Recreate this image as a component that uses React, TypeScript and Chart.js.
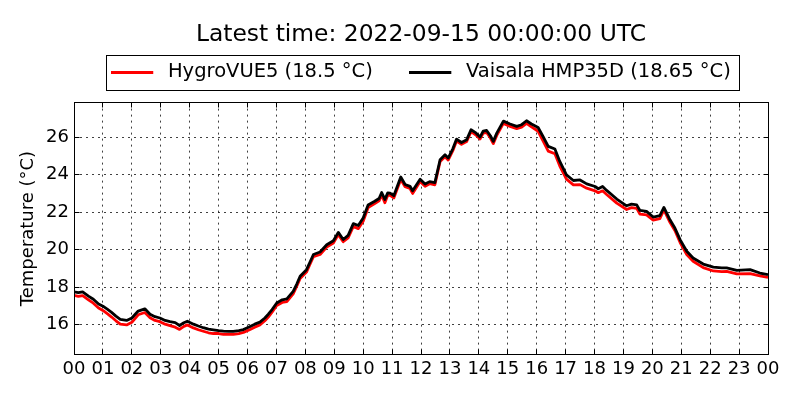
import React, { useEffect, useRef } from 'react';
import { Chart, registerables, Plugin, ChartConfiguration } from 'chart.js';

Chart.register(...registerables);

// time of day in hours, and both sensors' temperatures
const hours = [
  0.0, 0.15, 0.3, 0.5, 0.67, 0.85, 1.0, 1.15, 1.3, 1.45, 1.6, 1.82, 2.0, 2.22, 2.45, 2.63, 2.8, 2.97,
  3.15, 3.32, 3.5, 3.65, 3.8, 3.92, 4.13, 4.3, 4.47, 4.65, 4.82, 5.0, 5.17, 5.35, 5.51, 5.7, 5.86,
  6.09, 6.25, 6.43, 6.6, 6.72, 6.85, 7.01, 7.2, 7.36, 7.58, 7.7, 7.82, 8.04, 8.15, 8.28, 8.51, 8.74,
  8.97, 9.14, 9.31, 9.48, 9.66, 9.83, 10.0, 10.17, 10.4, 10.55, 10.64, 10.75, 10.85, 10.93, 11.06,
  11.3, 11.45, 11.62, 11.71, 11.97, 12.14, 12.3, 12.48, 12.66, 12.83, 12.94, 13.1, 13.23, 13.4,
  13.58, 13.73, 13.9, 14.04, 14.15, 14.27, 14.4, 14.5, 14.62, 14.85, 15.08, 15.31, 15.48, 15.65,
  15.82, 16.05, 16.22, 16.4, 16.63, 16.8, 17.03, 17.27, 17.5, 17.73, 18.02, 18.13, 18.28, 18.42,
  18.77, 19.11, 19.28, 19.46, 19.57, 19.8, 20.03, 20.26, 20.4, 20.61, 20.78, 20.96, 21.19, 21.41,
  21.76, 22.11, 22.4, 22.57, 22.92, 23.38, 23.72, 24.0,
];

const vaisala = [
  17.74, 17.7, 17.74, 17.52, 17.35, 17.1, 16.98, 16.82, 16.65, 16.45, 16.28, 16.22, 16.35, 16.72,
  16.84, 16.55, 16.42, 16.35, 16.22, 16.15, 16.1, 15.95, 16.1, 16.18, 16.02, 15.92, 15.83, 15.75,
  15.72, 15.68, 15.65, 15.63, 15.64, 15.68, 15.73, 15.9, 16.02, 16.13, 16.35, 16.55, 16.8, 17.15,
  17.32, 17.37, 17.77, 18.15, 18.58, 18.93, 19.3, 19.74, 19.87, 20.26, 20.47, 20.92, 20.54, 20.76,
  21.39, 21.29, 21.69, 22.38, 22.58, 22.73, 23.05, 22.68, 23.03, 23.02, 22.88, 23.88, 23.48, 23.38,
  23.14, 23.76, 23.5, 23.63, 23.58, 24.8, 25.06, 24.89, 25.38, 25.9, 25.72, 25.87, 26.4, 26.23,
  26.01, 26.33, 26.36, 26.08, 25.78, 26.22, 26.86, 26.71, 26.58, 26.67, 26.88, 26.71, 26.52, 26.04,
  25.51, 25.37, 24.71, 23.99, 23.69, 23.72, 23.51, 23.37, 23.25, 23.37, 23.16, 22.7, 22.34, 22.43,
  22.39, 22.09, 22.04, 21.74, 21.81, 22.25, 21.59, 21.15, 20.53, 19.91, 19.55, 19.23, 19.07, 19.02,
  19.02, 18.89, 18.93, 18.75, 18.66,
];

const hygroVue5 = [
  17.56, 17.5, 17.54, 17.32, 17.14, 16.88, 16.75, 16.58, 16.4, 16.2, 16.02, 15.98, 16.12, 16.52,
  16.64, 16.36, 16.22, 16.15, 16.02, 15.94, 15.86, 15.74, 15.9, 15.98, 15.82, 15.72, 15.64, 15.56,
  15.52, 15.52, 15.48, 15.47, 15.48, 15.52, 15.58, 15.74, 15.86, 15.98, 16.2, 16.4, 16.66, 17.02,
  17.18, 17.22, 17.64, 18.03, 18.46, 18.8, 19.18, 19.62, 19.74, 20.14, 20.35, 20.8, 20.42, 20.62,
  21.24, 21.12, 21.52, 22.24, 22.46, 22.6, 22.92, 22.5, 22.9, 22.9, 22.76, 23.74, 23.36, 23.26,
  23.0, 23.64, 23.38, 23.52, 23.46, 24.7, 24.96, 24.78, 25.28, 25.8, 25.62, 25.77, 26.3, 26.12,
  25.9, 26.22, 26.25, 25.96, 25.66, 26.1, 26.74, 26.58, 26.46, 26.54, 26.74, 26.55, 26.32, 25.8,
  25.26, 25.12, 24.46, 23.76, 23.46, 23.47, 23.28, 23.14, 23.04, 23.14, 22.94, 22.48, 22.14, 22.24,
  22.2, 21.9, 21.86, 21.58, 21.66, 22.12, 21.46, 21.02, 20.38, 19.74, 19.38, 19.04, 18.86, 18.82,
  18.84, 18.7, 18.72, 18.6, 18.52,
];

const hourLabels = [
  '00', '01', '02', '03', '04', '05', '06', '07', '08', '09', '10', '11', '12',
  '13', '14', '15', '16', '17', '18', '19', '20', '21', '22', '23', '00',
];
const yTicks = [16, 18, 20, 22, 24, 26];
const yMin = 14.4;
const yMax = 27.85;

const titleText = 'Latest time: 2022-09-15 00:00:00 UTC';
const hygroLabel = 'HygroVUE5 (18.5 °C)';
const vaisalaLabel = 'Vaisala HMP35D (18.65 °C)';

const FONT = 'DejaVu Sans';

// legend handle: a 42px line followed by a little empty space before the text
const makeSwatch = (color: string) => {
  const c = document.createElement('canvas');
  c.width = 47;
  c.height = 3;
  const g = c.getContext('2d');
  if (g) {
    g.fillStyle = color;
    g.fillRect(0, 0, 42, 3);
  }
  return c;
};

// matplotlib look: full frame, inward ticks on all sides, box round the legend
const mplFrame: Plugin<'line'> = {
  id: 'mplFrame',
  afterDraw(chart) {
    const { ctx, chartArea: a, scales } = chart;
    const L = Math.floor(a.left) + 0.5;
    const R = Math.floor(a.right) + 0.5;
    const T = Math.floor(a.top) + 0.5;
    const B = Math.floor(a.bottom) + 0.5;
    ctx.save();
    ctx.strokeStyle = '#000';
    ctx.lineWidth = 1;
    ctx.beginPath();
    for (const t of scales.x.ticks) {
      const px = Math.floor(scales.x.getPixelForValue(t.value)) + 0.5;
      ctx.moveTo(px, B);
      ctx.lineTo(px, B - 5);
      ctx.moveTo(px, T);
      ctx.lineTo(px, T + 5);
    }
    for (const t of scales.y.ticks) {
      const py = Math.floor(scales.y.getPixelForValue(t.value)) + 0.5;
      ctx.moveTo(L, py);
      ctx.lineTo(L + 5, py);
      ctx.moveTo(R, py);
      ctx.lineTo(R - 5, py);
    }
    ctx.stroke();
    ctx.strokeRect(L, T, R - L, B - T);

    const lg: any = chart.legend;
    const boxes = lg?.legendHitBoxes;
    if (boxes && boxes.length) {
      const left = Math.min(...boxes.map((b: any) => b.left)) - 5;
      const right = Math.max(...boxes.map((b: any) => b.left + b.width)) + 8;
      const cy = boxes[0].top + boxes[0].height / 2;
      const top = Math.floor(cy - 17) + 0.5;
      ctx.strokeRect(Math.floor(left) + 0.5, top, Math.round(right - left), 35);
    }
    ctx.restore();
  },
};

const gridStyle = { color: 'rgba(0,0,0,0.75)', lineWidth: 1, drawTicks: false };
const gridDash = { display: false, dash: [2, 4] };

const makeConfig = (): ChartConfiguration<'line'> => ({
  type: 'line',
  data: {
    datasets: [
      {
        label: hygroLabel,
        data: hours.map((h, i) => ({ x: h, y: hygroVue5[i] })),
        borderColor: '#ff0000',
        backgroundColor: '#ff0000',
        borderWidth: 2.8,
        pointRadius: 0,
        borderJoinStyle: 'round',
        order: 1,
        xAxisID: 'x',
        yAxisID: 'y',
      },
      {
        label: vaisalaLabel,
        data: hours.map((h, i) => ({ x: h, y: vaisala[i] })),
        borderColor: '#000000',
        backgroundColor: '#000000',
        borderWidth: 2.8,
        pointRadius: 0,
        borderJoinStyle: 'round',
        order: 0,
        xAxisID: 'x',
        yAxisID: 'y',
      },
    ],
  },
  options: {
    animation: false,
    responsive: false,
    devicePixelRatio: 1,
    layout: { padding: { left: 0, right: 32, top: 0, bottom: 0 } },
    scales: {
      x: {
        type: 'linear',
        position: 'bottom',
        min: 0,
        max: 24,
        grid: gridStyle,
        border: gridDash,
        ticks: {
          stepSize: 1,
          autoSkip: false,
          maxRotation: 0,
          padding: 4,
          color: '#000',
          font: { family: FONT, size: 18 },
          callback: (v) => hourLabels[Number(v)] ?? '',
        },
        afterFit: (s) => {
          s.height = 45.5;
        },
      },
      // empty top axis, only keeps the gap between legend and plot
      x2: {
        type: 'linear',
        position: 'top',
        display: true,
        grid: { display: false },
        border: { display: false },
        ticks: { display: false },
        afterFit: (s) => {
          s.height = 10.85;
        },
      },
      y: {
        type: 'linear',
        min: yMin,
        max: yMax,
        grid: gridStyle,
        border: gridDash,
        afterBuildTicks: (s) => {
          s.ticks = yTicks.map((value) => ({ value }));
        },
        ticks: {
          padding: 5,
          color: '#000',
          font: { family: FONT, size: 18 },
        },
        title: {
          display: true,
          text: 'Temperature (°C)',
          color: '#000',
          font: { family: FONT, size: 18 },
          padding: { top: 17.5, bottom: 0 },
        },
        afterFit: (s) => {
          s.width = 74;
        },
      },
    },
    plugins: {
      title: {
        display: true,
        text: titleText,
        fullSize: false,
        color: '#000',
        font: { family: FONT, size: 23.4, weight: 'normal' },
        padding: { top: 21, bottom: -23.33 },
      },
      legend: {
        display: true,
        fullSize: false,
        labels: {
          color: '#000',
          font: { family: FONT, size: 19.5 },
          usePointStyle: true,
          pointStyleWidth: 47,
          boxHeight: 3,
          padding: 36.5,
          sort: (a, b) => a.datasetIndex - b.datasetIndex,
          generateLabels: (chart) =>
            Chart.defaults.plugins.legend.labels
              .generateLabels(chart)
              .map((item) => ({
                ...item,
                lineWidth: 0,
                pointStyle: makeSwatch(String(item.strokeStyle)),
              })),
        },
      },
      tooltip: { enabled: false },
    },
  },
  plugins: [mplFrame],
});

export default function App() {
  const canvasRef = useRef<HTMLCanvasElement>(null);

  useEffect(() => {
    document.body.style.margin = '0';
    if (!canvasRef.current) return;
    const chart = new Chart(canvasRef.current, makeConfig());
    return () => {
      chart.destroy();
    };
  }, []);

  return (
    <div style={{ width: 800, height: 400, background: '#fff' }}>
      <canvas ref={canvasRef} width={800} height={400} style={{ display: 'block' }} />
    </div>
  );
}
